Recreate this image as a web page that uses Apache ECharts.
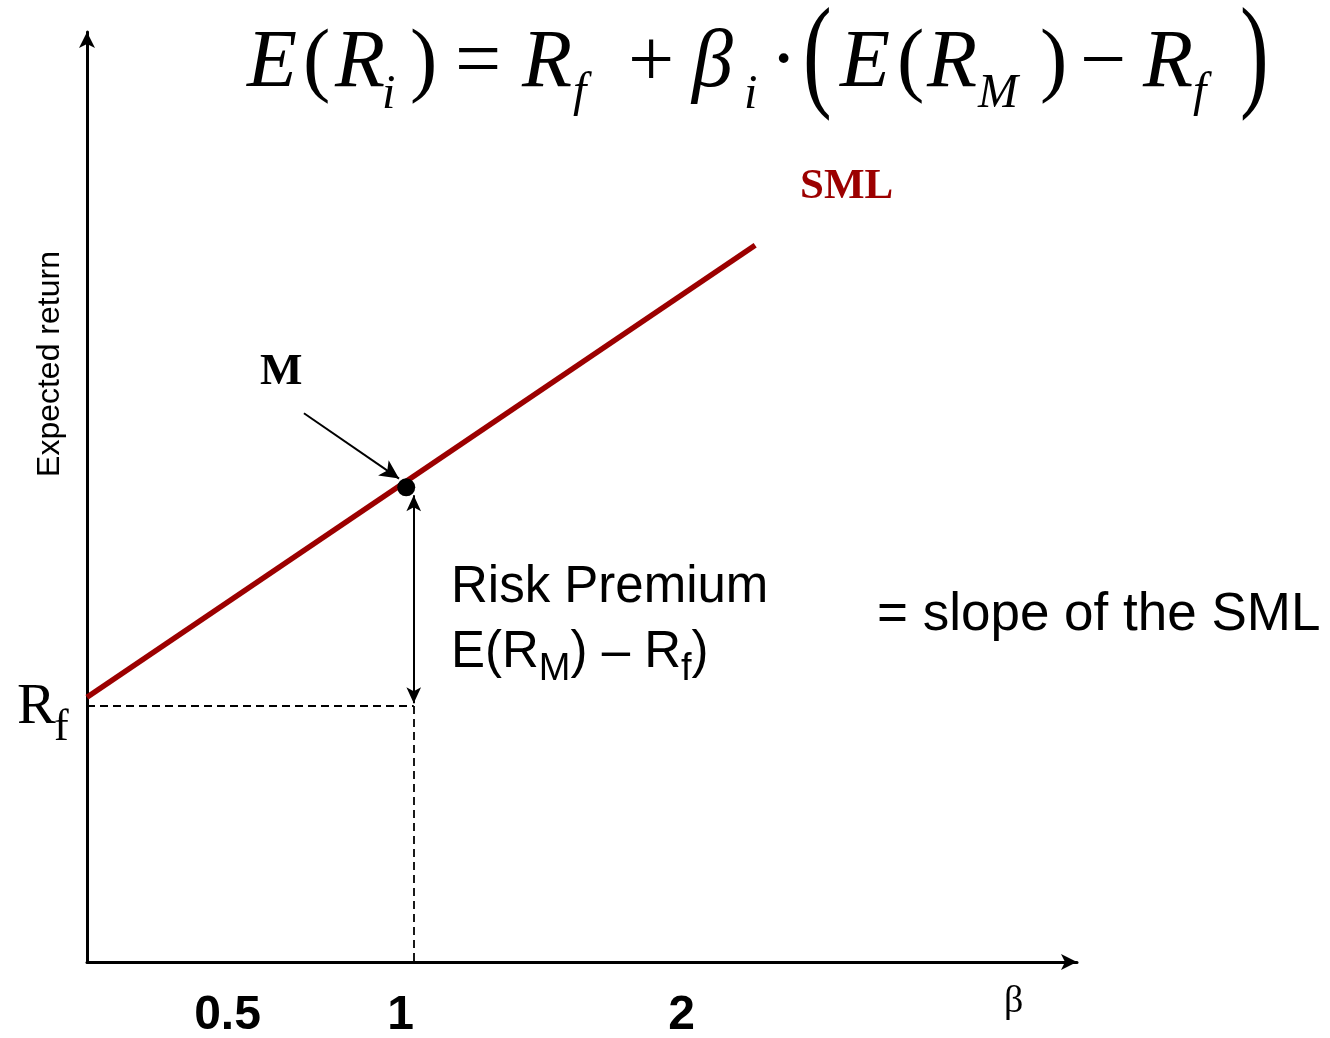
<!DOCTYPE html>
<html>
<head>
<meta charset="utf-8">
<script src="https://cdn.jsdelivr.net/npm/echarts@6/dist/echarts.min.js"></script>
<style>html,body{margin:0;padding:0;background:#fff;}#c{width:1330px;height:1038px;}</style>
</head>
<body>
<div id="c"></div>
<script>
// ---- data ----
const smlBeta = [0, 2.045];
const smlReturn = [5.75, 15.57];
const marketBeta = [0.977];
const marketReturn = [10.31];
const riskFree = 5.56;
const premiumBeta = 1.0;
const premiumRange = [5.62, 10.14];
const pointerStart = [0.664, 11.92];
const pointerEnd = [0.955, 10.5];
const tickValues = [0.43, 0.96, 1.82];
const tickLabels = ['0.5', '1', '2'];

const RED = '#9c0000';
const chart = echarts.init(document.getElementById('c'), null, {renderer: 'canvas'});

const cv = document.createElement('canvas').getContext('2d');
function midOff(font) {
  cv.font = font; cv.textBaseline = 'alphabetic';
  const a = cv.measureText('H').actualBoundingBoxAscent;
  cv.textBaseline = 'middle';
  const m = cv.measureText('H').actualBoundingBoxAscent;
  return a - m;
}
function txt(t, x, baseline, font, fill, extra) {
  return {
    type: 'text', x: x, y: baseline - midOff(font), z: 100,
    style: Object.assign({text: t, font: font, fill: fill || '#000', textAlign: 'left', verticalAlign: 'middle', textVerticalAlign: 'middle'}, extra || {})
  };
}
const SER = '"Liberation Serif", "DejaVu Serif", serif';
const SAN = '"Liberation Sans", Arial, sans-serif';
const fMain = 'italic 82px ' + SER;
const fUp = '82px ' + SER;
const fSub = 'italic 48px ' + SER;

const formula = [
  ['E', 247, 86, fMain], ['(', 303, 86, fUp], ['R', 335, 86, fMain], ['i', 382, 108, fSub],
  [')', 410, 86, fUp], ['=', 455, 86, fUp], ['R', 522, 86, fMain], ['f', 573, 106, fSub],
  ['+', 628, 86, fUp], ['β', 692, 86, fMain], ['i', 744, 108, fSub], ['·', 770, 86, fUp],
  ['E', 840, 86, fMain], ['(', 897, 86, fUp], ['R', 927, 86, fMain],
  ['M', 978, 107, fSub], [')', 1040, 86, fUp], ['−', 1080, 86, fUp], ['R', 1143, 86, fMain],
  ['f', 1193, 106, fSub]
];

const graphics = formula.map(p => txt(p[0], p[1], p[2], p[3]));
// tall thin brackets: normal-weight paren stretched vertically
[['(', 803], [')', 1240]].forEach(p => {
  graphics.push({
    type: 'text', x: p[1], y: 61, scaleX: 1.05, scaleY: 1.52, z: 100,
    style: {text: p[0], font: fUp, fill: '#000', textAlign: 'left', verticalAlign: 'middle', textVerticalAlign: 'middle'}
  });
});
graphics.push(txt('SML', 800, 198, 'bold 43px ' + SER, RED));
graphics.push(txt('M', 260, 384, 'bold 45px ' + SER));
graphics.push(txt('R', 17, 723, '58px ' + SER));
graphics.push(txt('f', 54, 740, '44px ' + SER));
graphics.push(txt('β', 1004, 1012, '38px ' + SER));
graphics.push(txt('Risk Premium', 451, 602, '51px ' + SAN));
// second line: E(R_M) – R_f)
(function () {
  const big = '51px ' + SAN, small = '38px ' + SAN;
  const parts = [['E(R', big, 667], ['M', small, 680], [') – R', big, 667], ['f', small, 680], [')', big, 667]];
  let x = 451;
  parts.forEach(p => {
    graphics.push(txt(p[0], x, p[2], p[1]));
    cv.font = p[1]; x += cv.measureText(p[0]).width;
  });
})();
graphics.push(txt('= slope of the SML', 877, 630, '53px ' + SAN));
// rotated y label
(function () {
  const f = '32px ' + SAN;
  graphics.push({
    type: 'text', x: 59 - midOff(f), y: 364, rotation: Math.PI / 2, z: 100,
    style: {text: 'Expected return', font: f, fill: '#000', textAlign: 'center', verticalAlign: 'middle', textVerticalAlign: 'middle'}
  });
})();

function holder(name, ml) {
  return {
    type: 'line', name: name, data: [[0, 0]], showSymbol: false, symbol: 'none',
    lineStyle: {opacity: 0}, silent: true, animation: false, markLine: ml
  };
}

const option = {
  animation: false,
  backgroundColor: '#fff',
  grid: {left: 87, top: 32, width: 990, height: 930, containLabel: false, outerBoundsMode: 'none'},
  xAxis: {
    type: 'value', min: 0, max: 3.03,
    axisLine: {show: true, onZero: false, symbol: ['none', 'arrow'], symbolSize: [12, 16], lineStyle: {color: '#000', width: 3}},
    axisTick: {show: false},
    splitLine: {show: false},
    axisLabel: {
      show: true, customValues: tickValues, margin: 30,
      fontSize: 48, fontWeight: 'bold', fontFamily: SAN, color: '#000',
      formatter: v => { const i = tickValues.findIndex(t => Math.abs(t - v) < 1e-6); return i >= 0 ? tickLabels[i] : ''; }
    }
  },
  yAxis: {
    type: 'value', min: 0, max: 20.2,
    axisLine: {show: true, onZero: false, symbol: ['none', 'arrow'], symbolSize: [12, 16], lineStyle: {color: '#000', width: 3}},
    axisTick: {show: false}, axisLabel: {show: false}, splitLine: {show: false}
  },
  graphic: graphics,
  series: [
    {
      type: 'line', name: 'SML', data: smlBeta.map((b, i) => [b, smlReturn[i]]),
      symbol: 'none', lineStyle: {color: RED, width: 5.5}, z: 3, silent: true
    },
    {
      type: 'scatter', name: 'M', data: marketBeta.map((b, i) => [b, marketReturn[i]]),
      symbol: 'circle', symbolSize: 18, itemStyle: {color: '#000', opacity: 1}, z: 6, silent: true
    },
    holder('dashed', {
      silent: true, symbol: ['none', 'none'], label: {show: false},
      lineStyle: {color: '#000', width: 1.8, type: [8, 5]},
      data: [
        [{coord: [0, riskFree]}, {coord: [premiumBeta, riskFree]}],
        [{coord: [premiumBeta, riskFree]}, {coord: [premiumBeta, 0]}]
      ]
    }),
    holder('premium', {
      silent: true, symbol: ['arrow', 'arrow'], symbolSize: [11, 16], label: {show: false},
      lineStyle: {color: '#000', width: 2, type: 'solid'},
      data: [[{coord: [premiumBeta, premiumRange[0]]}, {coord: [premiumBeta, premiumRange[1]]}]]
    }),
    holder('pointer', {
      silent: true, symbol: ['none', 'arrow'], symbolSize: [14, 19], label: {show: false},
      lineStyle: {color: '#000', width: 2, type: 'solid'},
      data: [[{coord: pointerStart}, {coord: pointerEnd}]]
    })
  ]
};
chart.setOption(option);
</script>
</body>
</html>
